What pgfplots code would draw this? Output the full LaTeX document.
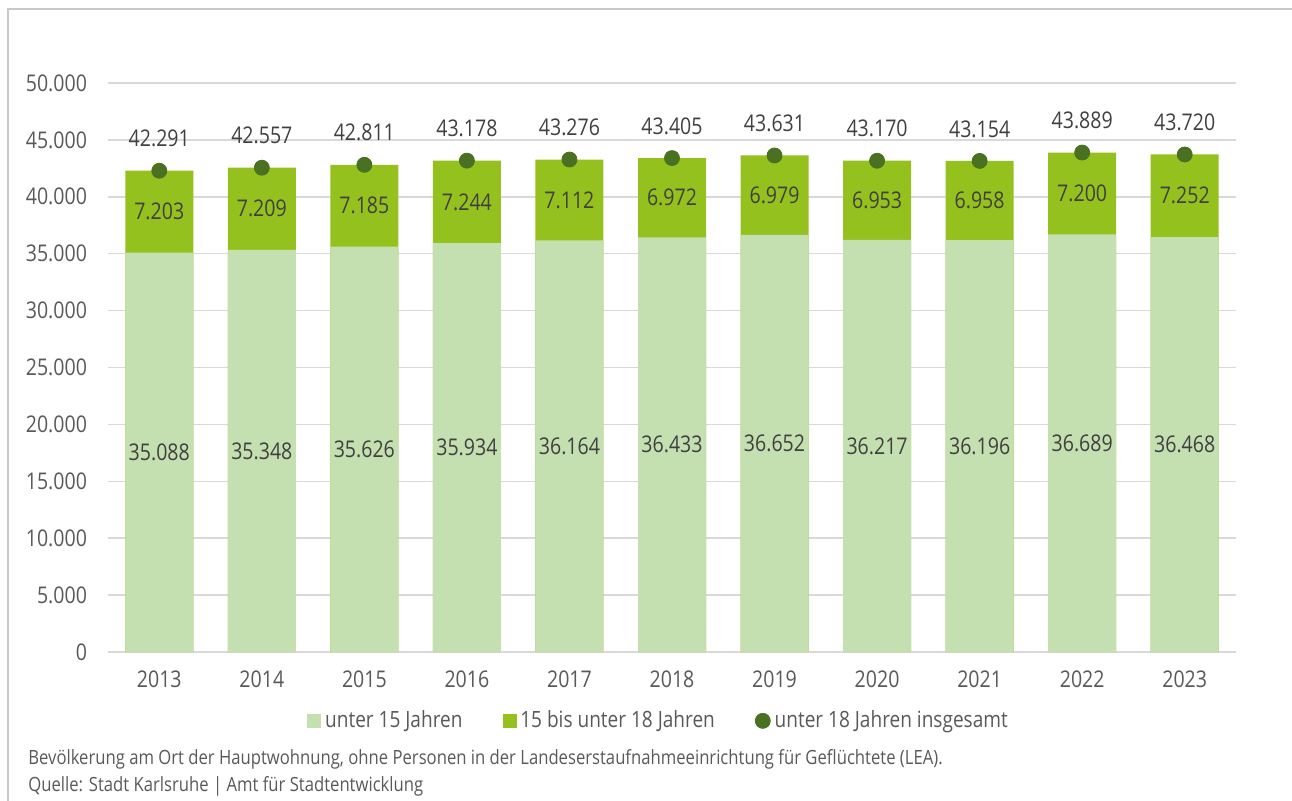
\documentclass[border=0pt]{standalone}
\usepackage{pgfplots}
\pgfplotsset{compat=1.18}
\usepackage{pgfplotstable}
\usepackage{fontspec}
\setmainfont{Open Sans}[FakeStretch=0.85]
\definecolor{lightg}{HTML}{C4DFB0}
\definecolor{midg}{HTML}{95C11F}
\definecolor{darkg}{HTML}{4A7021}
\definecolor{gridc}{HTML}{D9D9D9}
\definecolor{tickc}{HTML}{595959}
\definecolor{labc}{HTML}{404040}
\definecolor{framec}{HTML}{C8C8C8}
\newcommand{\numfont}{\fontsize{11.5pt}{13pt}\selectfont}
\newcommand{\legfont}{\fontsize{11.2pt}{13pt}\selectfont}
\newcommand{\txtfont}{\fontsize{9.8pt}{12pt}\selectfont}

\pgfplotstableread{
i year u15 u18 total
0 2013 35088 7203 42291
1 2014 35348 7209 42557
2 2015 35626 7185 42811
3 2016 35934 7244 43178
4 2017 36164 7112 43276
5 2018 36433 6972 43405
6 2019 36652 6979 43631
7 2020 36217 6953 43170
8 2021 36196 6958 43154
9 2022 36689 7200 43889
10 2023 36468 7252 43720
}\datatable

\begin{document}
\begin{tikzpicture}
\path[use as bounding box] (0,0) rectangle (646pt,400pt);
\draw[framec, line width=0.8pt] (4pt,-2pt) -- (4pt,395.5pt) -- (648pt,395.5pt);
\begin{axis}[
  at={(54pt,74pt)}, anchor=south west,
  scale only axis, width=564pt, height=284.5pt,
  xmin=-0.5, xmax=10.5, ymin=0, ymax=50000,
  separate axis lines,
  axis x line*=bottom, axis y line*=left,
  x axis line style={gridc, line width=1pt},
  y axis line style={draw=none},
  major tick length=0pt,
  ytick={0,5000,...,50000},
  xtick={0,...,10},
  xticklabels={2013,2014,2015,2016,2017,2018,2019,2020,2021,2022,2023},
  scaled y ticks=false,
  ymajorgrids, grid style={gridc, line width=0.75pt},
  /pgf/number format/.cd, 1000 sep={.}, assume math mode=true,
  /pgfplots/.cd,
  tick label style={font=\numfont, text=tickc},
  yticklabel style={xshift=-7pt},
  xticklabel style={yshift=-6pt},
  legend style={at={(0.489,-0.121)}, anchor=center, draw=none, fill=none,
    legend columns=3, font=\legfont, text=tickc,
    /tikz/every even column/.append style={column sep=18pt},
    nodes={inner xsep=2pt}},
  legend cell align=left,
  clip=false,
]
\addlegendimage{legend image code/.code={\fill[lightg] (0pt,-3.25pt) rectangle (6.5pt,3.25pt);}}
\addlegendentry{unter 15 Jahren}
\addlegendimage{legend image code/.code={\fill[midg] (0pt,-3.25pt) rectangle (6.5pt,3.25pt);}}
\addlegendentry{15 bis unter 18 Jahren}
\addlegendimage{legend image code/.code={\fill[darkg] (3.75pt,0pt) circle (3.75pt);}}
\addlegendentry{unter 18 Jahren insgesamt}

\addplot[ybar, bar width=34pt, bar shift=0pt, fill=midg, draw=none, forget plot]
  table[x=i, y=total]{\datatable};
\addplot[ybar, bar width=34pt, bar shift=0pt, fill=lightg, draw=none, forget plot]
  table[x=i, y=u15]{\datatable};

\addplot[draw=none, mark=none, forget plot, nodes near coords, point meta=explicit,
  every node near coord/.append style={font=\numfont, text=labc, anchor=center}]
  table[x=i, y expr=\thisrow{u15}/2, meta=u15]{\datatable};
\addplot[draw=none, mark=none, forget plot, nodes near coords, point meta=explicit,
  every node near coord/.append style={font=\numfont, text=labc, anchor=center}]
  table[x=i, y expr=\thisrow{u15}+\thisrow{u18}/2, meta=u18]{\datatable};
\addplot[draw=none, mark=none, forget plot, nodes near coords, point meta=explicit,
  every node near coord/.append style={font=\numfont, text=labc, anchor=center, yshift=16pt}]
  table[x=i, y=total, meta=total]{\datatable};

\addplot[only marks, mark=*, mark size=3.75pt, color=darkg, forget plot]
  table[x=i, y=total]{\datatable};
\end{axis}
\node[anchor=base west, font=\txtfont, text=tickc, inner sep=0pt] at (14pt,18pt)
  {Bevölkerung am Ort der Hauptwohnung, ohne Personen in der Landeserstaufnahmeeinrichtung für Geflüchtete (LEA).};
\node[anchor=base west, font=\txtfont, text=tickc, inner sep=0pt] at (14pt,4.5pt)
  {Quelle: Stadt Karlsruhe | Amt für Stadtentwicklung};
\end{tikzpicture}
\end{document}
